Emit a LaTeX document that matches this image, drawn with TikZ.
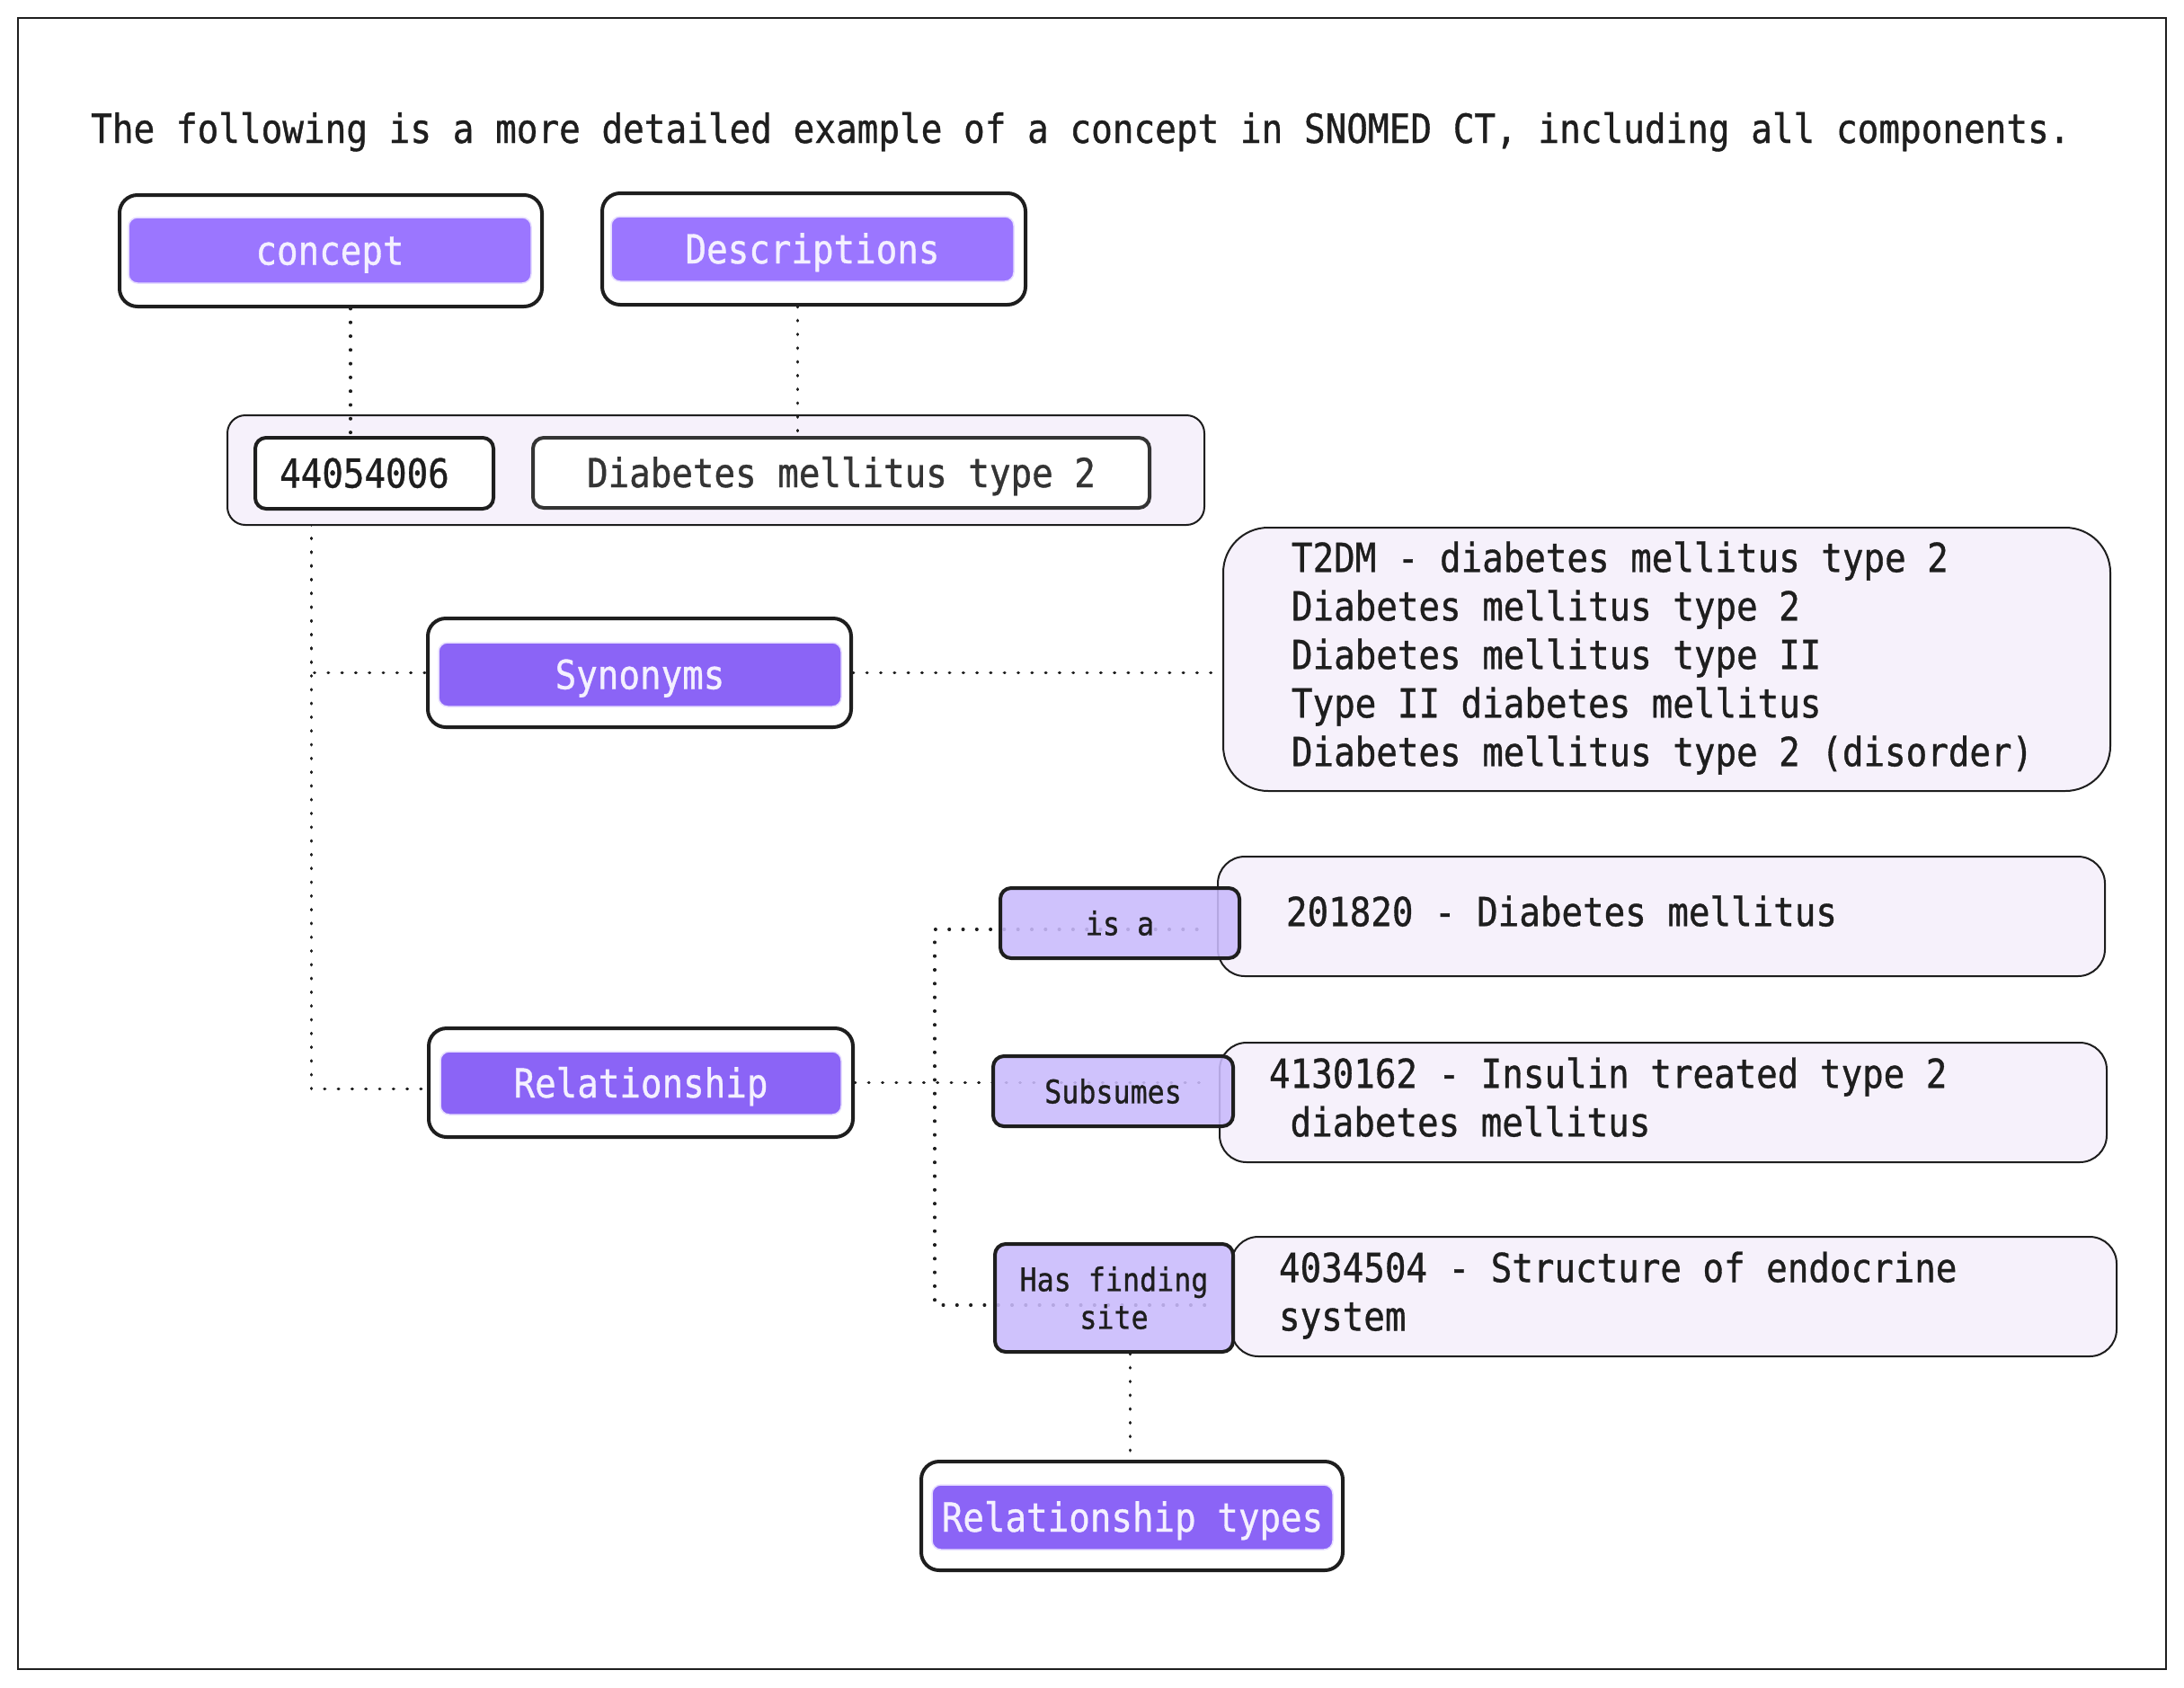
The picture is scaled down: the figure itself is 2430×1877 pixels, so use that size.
\documentclass[tikz,border=0pt]{standalone}
\usepackage{fontspec}
\setmonofont[FakeStretch=0.88,FakeBold=0.8]{DejaVu Sans Mono}
\definecolor{ink}{HTML}{1E1E1E}
\definecolor{gray33}{HTML}{343434}
\definecolor{tagA}{HTML}{9B76FF}
\definecolor{tagB}{HTML}{8B64F6}
\definecolor{tagline}{HTML}{E6DDFF}
\definecolor{tagtext}{HTML}{F4F0FF}
\definecolor{lightfill}{HTML}{F6F1FB}
\definecolor{relfill}{HTML}{C9BAFC}
\newcommand\bigf{\ttfamily\fontsize{44.5}{54}\selectfont}
\newcommand\titlef{\ttfamily\fontsize{44.7}{54}\selectfont}
\newcommand\midf{\ttfamily\fontsize{44.5}{54}\selectfont}
\newcommand\smallf{\ttfamily\fontsize{36}{42}\selectfont}
\newcommand\linesleft[2]{\makebox[#1][l]{\begin{tabular}{@{}l@{}}#2\end{tabular}}}
\pgfdeclarelayer{back}
\pgfdeclarelayer{bg}
\pgfsetlayers{back,bg,main}
\tikzset{
  outerbox/.style={draw=ink, line width=4pt, rounded corners=20pt, fill=white, inner sep=0pt},
  tagbase/.style={draw=tagline, line width=1.5pt, rounded corners=10pt, inner sep=0pt,
    text=tagtext, font=\bigf, text height=32pt, text depth=0pt},
  tagA/.style={tagbase, fill=tagA},
  tagB/.style={tagbase, fill=tagB},
  lightbox/.style={draw=ink, line width=2pt, rounded corners=28pt, fill=lightfill, inner ysep=0pt,
    text=ink},
  whitebox/.style={draw=ink, line width=4pt, rounded corners=12pt, fill=white, inner sep=0pt,
    text=ink, font=\bigf, text height=32pt, text depth=0pt},
  relbox/.style={draw=ink, line width=4pt, rounded corners=12pt, fill=relfill, fill opacity=0.88,
    text opacity=1, draw opacity=1, inner sep=0pt, text=ink, font=\smallf},
  conn/.style={draw=ink, line width=3.2pt, line cap=round, dash pattern=on 0.8pt off 14.5pt},
}
\begin{document}
\begin{tikzpicture}[x=1pt,y=-1pt]
\useasboundingbox (0,0) rectangle (2430,1877);
\begin{pgfonlayer}{back}
\fill[white] (0,0) rectangle (2430,1877);
\end{pgfonlayer}
\draw[ink, line width=2pt] (20,20) rectangle (2410,1857);

\node[anchor=base west, inner sep=0pt, text=ink, font=\titlef] (title) at (101,159)
  {The following is a more detailed example of a concept in SNOMED CT, including all components.};

% concept / descriptions headers
\node[outerbox, minimum width=470pt, minimum height=124pt] (conO) at (368,279) {};
\node[tagA, minimum width=448pt, minimum height=73pt] (con) at (367,278.5) {concept};
\node[outerbox, minimum width=471pt, minimum height=124pt] (descO) at (905.5,277) {};
\node[tagA, minimum width=448pt, minimum height=72pt] (desc) at (904,277) {Descriptions};

% concept id group
\node[lightbox, rounded corners=20pt, inner sep=0pt, minimum width=1087pt, minimum height=122pt] (grp) at (796.5,523) {};
\node[whitebox, minimum width=265pt, minimum height=79pt] (cid) at (416.5,526.5) {44054006\kern22pt};
\node[whitebox, draw=gray33, text=gray33, minimum width=686pt, minimum height=78pt] (fsn) at (936,526) {Diabetes mellitus type 2};

% synonyms
\node[outerbox, minimum width=471pt, minimum height=121pt] (synO) at (711.5,748.5) {};
\node[tagB, minimum width=448pt, minimum height=71pt] (syn) at (712,750.5) {Synonyms};
\node[lightbox, rounded corners=50pt, minimum height=293pt, inner xsep=76pt, font=\bigf] (synl) at (1854.5,733.5)
  {\linesleft{835pt}{T2DM - diabetes mellitus type 2\\Diabetes mellitus type 2\\Diabetes mellitus type II\\Type II diabetes mellitus\\Diabetes mellitus type 2 (disorder)}};

% relationship
\node[outerbox, minimum width=472pt, minimum height=121pt] (relO) at (713,1204.5) {};
\node[tagB, minimum width=446pt, minimum height=70pt] (rel) at (713,1205) {Relationship};

% relationship types
\node[outerbox, minimum width=469pt, minimum height=121pt] (rtO) at (1259.5,1686.5) {};
\node[tagB, minimum width=446pt, minimum height=72pt] (rt) at (1260,1688) {Relationship types};

% target concepts
\node[lightbox, rounded corners=30pt, minimum height=133pt, inner xsep=76pt, font=\midf] (t1) at (1848.5,1019.5)
  {\linesleft{835pt}{201820 - Diabetes mellitus}};
\node[lightbox, rounded corners=30pt, minimum height=133pt, inner xsep=55pt, font=\midf] (t2) at (1850.5,1226.5)
  {\linesleft{877pt}{4130162 - Insulin treated type 2\\\phantom{x}diabetes mellitus}};
\node[lightbox, rounded corners=30pt, minimum height=133pt, inner xsep=53pt, font=\midf] (t3) at (1862.5,1442.5)
  {\linesleft{879pt}{4034504 - Structure of endocrine\\system}};

% relationship labels
\node[relbox, minimum width=266pt, minimum height=78pt] (isa) at (1246,1027) {is a};
\node[relbox, minimum width=267pt, minimum height=78pt] (sub) at (1238.5,1214) {Subsumes};
\node[relbox, minimum width=265pt, minimum height=120pt, align=center] (hfs) at (1239.5,1444) {Has finding\\site};

% connectors under boxes
\begin{pgfonlayer}{bg}
\draw[conn] ([xshift=-70pt]cid.south) |- (synO.west);
\draw[conn] ([xshift=-70pt]cid.south) |- ([yshift=-7pt]relO.west);
\draw[conn] (relO.east) -- ([xshift=-33pt]sub.east |- relO.east);
\coordinate (jct) at (1040,1206);
\draw[conn] ([xshift=-49pt,yshift=-7pt]isa.east) -| ([yshift=-8pt]jct |- hfs.west) -- ([xshift=-22pt,yshift=-8pt]hfs.east);
\end{pgfonlayer}

% connectors on top
\draw[conn] ([xshift=22pt]conO.south) -- ([xshift=22pt]conO.south |- cid.north);
\draw[conn] ([xshift=-18pt]descO.south) -- ([xshift=-18pt]descO.south |- fsn.north);
\draw[conn] (synO.east) -- (synO.east -| synl.west);
\draw[conn] ([xshift=18pt]hfs.south) -- ([xshift=18pt]hfs.south |- rtO.north);
\end{tikzpicture}
\end{document}
